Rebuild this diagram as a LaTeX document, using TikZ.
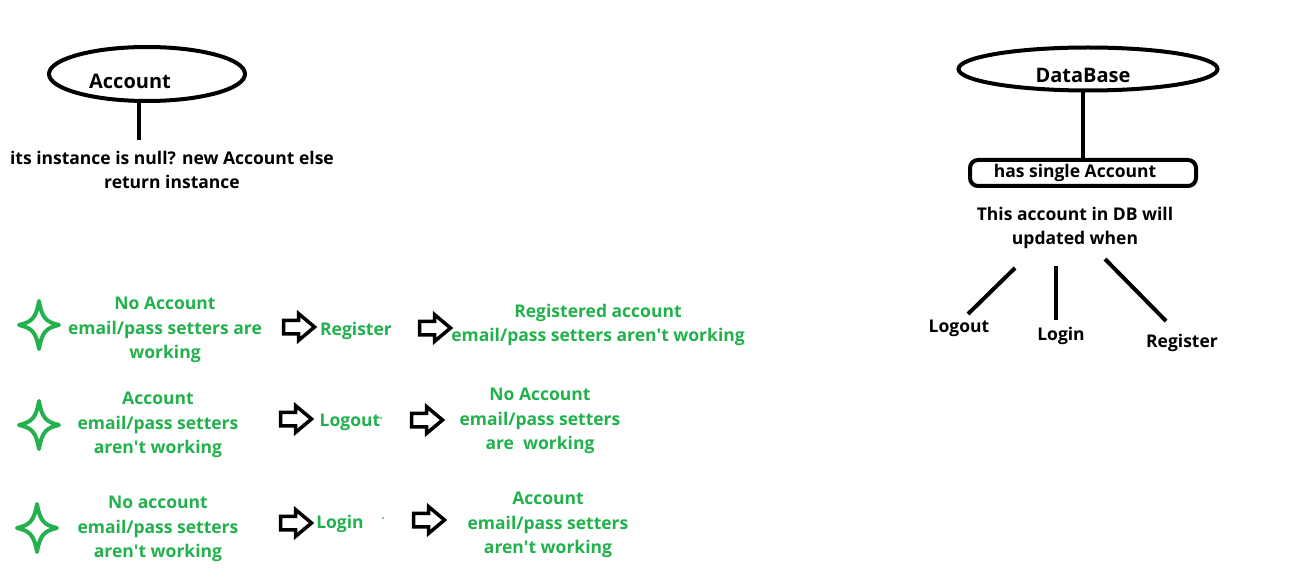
\documentclass[tikz,border=0pt]{standalone}
\usepackage{fontspec}
\setmainfont{Open Sans}
\usetikzlibrary{shapes.geometric,shapes.arrows}
\definecolor{pgreen}{HTML}{22B14C}
\newcommand\ap{\textquotesingle}
\begin{document}
\begin{tikzpicture}[x=1pt,y=-1pt,
 txt/.style={font=\bfseries\fontsize{17.5}{24.5}\selectfont, align=center, inner sep=0pt, yshift=-2pt},
 title/.style={font=\bfseries\fontsize{20}{24}\selectfont, align=center, inner sep=0pt},
 gtxt/.style={txt, text=pgreen},
 oval/.style={ellipse, draw, line width=4pt, inner sep=0pt},
 bar/.style={line width=4pt},
 harrow/.style={single arrow, draw, line width=3.5pt, minimum height=31pt, inner sep=5pt,
   single arrow head extend=6.5pt, single arrow tip angle=80},
 star4/.pic={\draw[pgreen,line width=4pt,line join=round]
   (0,-24) .. controls (3,-7) and (7,-3) .. (20,0) .. controls (7,3) and (3,7) .. (0,24)
   .. controls (-3,7) and (-7,3) .. (-20,0) .. controls (-7,-3) and (-3,-7) .. cycle;}
]
\useasboundingbox[fill=white] (0,0) rectangle (1296,572);

% Account
\node[oval, minimum width=196pt, minimum height=54pt] (acc) at (147,74) {};
\node[title] (acct) at (130,81) {Account};
\node[txt] (inst) at (172,168) {its instance is null? new Account else\\return instance};
\coordinate (a1) at (139,140);
\draw[bar] (acc.south -| a1) -- (a1);

% DataBase
\node[oval, minimum width=259pt, minimum height=43pt] (db) at (1088,69) {};
\node[title] (dbt) at (1083,75) {DataBase};
\node[draw, line width=4pt, rounded corners=8pt, minimum width=226pt, minimum height=26pt] (hs) at (1083,173) {};
\node[txt] (hst) at (1075,171) {has single Account};
\draw[bar] (db.south -| hs.north) -- (hs.north);
\node[txt] (upd) at (1075,226) {This account in DB will\\updated when};

\node[txt] (lo) at (959,326) {Logout};
\node[txt] (li) at (1061,334) {Login};
\node[txt] (re) at (1182,341) {Register};
\coordinate (l1a) at (1015,268); \coordinate (l1b) at (968,314);
\coordinate (l2a) at (1056,266); \coordinate (l2b) at (1056,320);
\coordinate (l3a) at (1105,259); \coordinate (l3b) at (1166,321);
\draw[bar] (l1a) -- (l1b);
\draw[bar] (l2a) -- (l2b);
\draw[bar] (l3a) -- (l3b);

% Rows
\pic (s1) at (39,325) {star4};
\pic (s2) at (39,425) {star4};
\pic (s3) at (37,528) {star4};

\node[gtxt] (L1) at (165,328) {No Account\\email/pass setters are\\working};
\node[gtxt] (L2) at (158,423) {Account\\email/pass setters\\aren\ap t working};
\node[gtxt] (L3) at (158,527) {No account\\email/pass setters\\aren\ap t working};

\node[harrow] (a11) at (295,327) {};
\node[harrow] (a21) at (292,419) {};
\node[harrow] (a31) at (292,523) {};

\node[gtxt] (R1l) at (356,329) {Register};
\node[gtxt] (R2l) at (350,420) {Logout};
\node[gtxt] (R3l) at (340,522) {Login};
\fill[pgreen] (381,418) circle (1pt);
\fill[pgreen] (383,518) circle (1pt);

\node[harrow] (a12) at (431,328) {};
\node[harrow] (a22) at (423,420) {};
\node[harrow] (a32) at (425,520) {};

\node[gtxt] (R1) at (598,323) {Registered account\\email/pass setters aren\ap t working};
\node[gtxt] (R2) at (540,419) {No Account\\email/pass setters\\are\ \ working};
\node[gtxt] (R3) at (548,523) {Account\\email/pass setters\\aren\ap t working};
\end{tikzpicture}
\end{document}
